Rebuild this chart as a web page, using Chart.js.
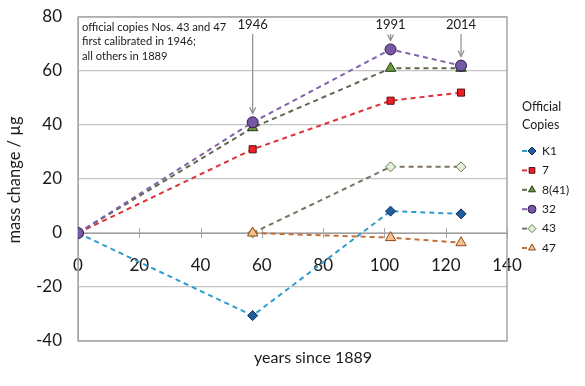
<!DOCTYPE html>
<html><head><meta charset="utf-8">
<script src="https://cdn.jsdelivr.net/npm/chart.js@4/dist/chart.umd.min.js"></script>
<style>html,body{margin:0;padding:0;background:#fff}#wrap{width:585px;height:386px}</style>
</head><body><div id="wrap"><canvas id="c" width="585" height="386"></canvas></div>
<script>
const years = [0, 57, 102, 125];
const seriesNames = ["K1", "7", "8(41)", "32", "43", "47"];
const k1 = [0, -30.6, 8.1, 7.1];
const c7 = [0, 31, 49, 52];
const c8 = [0, 39, 61, 61];
const c32 = [0, 41, 68, 62];
const c43 = [null, 0, 24.5, 24.5];
const c47 = [null, 0, -1.7, -3.6];
const yTicks = [-40, -20, 0, 20, 40, 60, 80];
const xTicks = [0, 20, 40, 60, 80, 100, 120, 140];
const calibYears = [{label: "1946", idx: 1, s: 3}, {label: "1991", idx: 2, s: 3}, {label: "2014", idx: 3, s: 3}];
const noteLines = ["official copies Nos. 43 and 47", "first calibrated in 1946;", "all others in 1889"];

const FONT = "Lato, 'Open Sans', sans-serif";
const styles = [
  {line: "#2F9DCC", fill: "#1F5E9E", border: "#0b2d52", ps: "rectRot", r: 5},
  {line: "#E2303A", fill: "#EC2129", border: "#5a0c0c", ps: "rect", r: 5},
  {line: "#5E6A4E", fill: "#6A9A3A", border: "#263618", ps: "triangle", r: 6},
  {line: "#8262A8", fill: "#7758A4", border: "#2a1a48", ps: "circle", r: 5.5},
  {line: "#7B7263", fill: "#E3F0D8", border: "#6a7a48", ps: "rectRot", r: 5},
  {line: "#C46E3A", fill: "#F9C08C", border: "#8a4a1a", ps: "triangle", r: 6}
];
const values = [k1, c7, c8, c32, c43, c47];
const datasets = values.map((arr, i) => ({
  label: seriesNames[i],
  data: years.map((x, j) => ({x: x, y: arr[j]})).filter(p => p.y !== null),
  borderColor: styles[i].line,
  borderWidth: 2,
  borderDash: [5, 4],
  backgroundColor: styles[i].fill,
  pointBackgroundColor: styles[i].fill,
  pointBorderColor: styles[i].border,
  pointBorderWidth: 1,
  pointStyle: styles[i].ps,
  pointRadius: styles[i].r,
  order: 6 - i,
  tension: 0
}));

const deco = {
  id: "deco",
  beforeDatasetsDraw(chart) {
    const {ctx, chartArea: a, scales: {x, y}} = chart;
    ctx.save();
    const y0 = y.getPixelForValue(0);
    ctx.strokeStyle = "#a6a6a6"; ctx.lineWidth = 1;
    xTicks.forEach(v => {
      const px = Math.round(x.getPixelForValue(v)) + 0.5;
      ctx.beginPath(); ctx.moveTo(px, y0 - 5); ctx.lineTo(px, y0 + 5); ctx.stroke();
    });
    ctx.strokeStyle = "#a0a0a0";
    ctx.beginPath(); ctx.moveTo(a.left, y0 + 0.5); ctx.lineTo(a.right, y0 + 0.5); ctx.stroke();
    ctx.strokeStyle = "#a6a6a6"; ctx.lineWidth = 1.5;
    ctx.strokeRect(a.left, a.top, a.right - a.left, a.bottom - a.top);
    ctx.restore();
  },
  afterDraw(chart) {
    const {ctx, chartArea: a, scales: {x, y}} = chart;
    ctx.save();
    ctx.fillStyle = "#1a1a1a";
    ctx.font = "16px " + FONT;
    ctx.textAlign = "center"; ctx.textBaseline = "middle";
    ctx.fillText("years since 1889", 313, 358);
    ctx.save();
    ctx.translate(15, 180); ctx.rotate(-Math.PI / 2);
    ctx.font = "16.5px " + FONT;
    ctx.fillText("mass change / \u00b5g", 0, 0);
    ctx.restore();
    ctx.font = "11.2px " + FONT;
    ctx.textAlign = "left";
    noteLines.forEach((t, i) => ctx.fillText(t, a.left + 4, 27 + i * 14.5));
    calibYears.forEach(c => {
      const px = x.getPixelForValue(years[c.idx]);
      const py = y.getPixelForValue(values[c.s][c.idx]) - 9;
      ctx.fillStyle = "#1a1a1a";
      ctx.font = "13px " + FONT;
      ctx.textAlign = "center";
      ctx.fillText(c.label, px, 25);
      ctx.strokeStyle = "#8c8c8c"; ctx.lineWidth = 1.2;
      ctx.beginPath(); ctx.moveTo(px, 34); ctx.lineTo(px, py); ctx.stroke();
      ctx.beginPath(); ctx.moveTo(px - 3, py - 6); ctx.lineTo(px, py); ctx.lineTo(px + 3, py - 6); ctx.stroke();
    });
    ctx.fillStyle = "#1a1a1a";
    ctx.font = "12.5px " + FONT;
    ctx.textAlign = "left";
    ctx.fillText("Official", 522, 107);
    ctx.fillText("Copies", 522, 125);
    ctx.font = "12px " + FONT;
    seriesNames.forEach((n, i) => {
      const ly = 151 + i * 19.4;
      ctx.strokeStyle = styles[i].line; ctx.lineWidth = 2; ctx.setLineDash([]);
      ctx.beginPath(); ctx.moveTo(522, ly); ctx.lineTo(527, ly); ctx.stroke();
      ctx.fillStyle = styles[i].fill; ctx.strokeStyle = styles[i].border; ctx.lineWidth = 1;
      Chart.helpers.drawPoint(ctx, {pointStyle: styles[i].ps, radius: 4, rotation: 0, borderWidth: 1}, 532, ly);
      ctx.fillStyle = "#1a1a1a";
      ctx.fillText(n, 542, ly);
    });
    ctx.restore();
  }
};

new Chart(document.getElementById("c"), {
  type: "line",
  data: {datasets},
  options: {
    responsive: false,
    animation: false,
    layout: {padding: {left: 0, right: 78, top: 17, bottom: 45}},
    plugins: {legend: {display: false}, tooltip: {enabled: false}},
    scales: {
      x: {
        type: "linear", min: 0, max: 140,
        position: {y: 0},
        afterBuildTicks: s => { s.ticks = xTicks.map(v => ({value: v})); },
        afterFit: s => { s.paddingLeft = 0; s.paddingRight = 0; },
        grid: {display: false},
        border: {display: false},
        ticks: {font: {size: 17, family: FONT}, color: "#1a1a1a", padding: 14, maxRotation: 0, autoSkip: false}
      },
      y: {
        type: "linear", min: -40, max: 80,
        afterBuildTicks: s => { s.ticks = yTicks.map(v => ({value: v})); },
        afterFit: s => { s.width = 78; s.paddingTop = 0; s.paddingBottom = 0; },
        grid: {color: "#c4c4c4", drawTicks: false, lineWidth: 1.2},
        border: {color: "#a6a6a6"},
        ticks: {font: {size: 17, family: FONT}, color: "#1a1a1a", padding: 16}
      }
    }
  },
  plugins: [deco]
});
</script></body></html>
